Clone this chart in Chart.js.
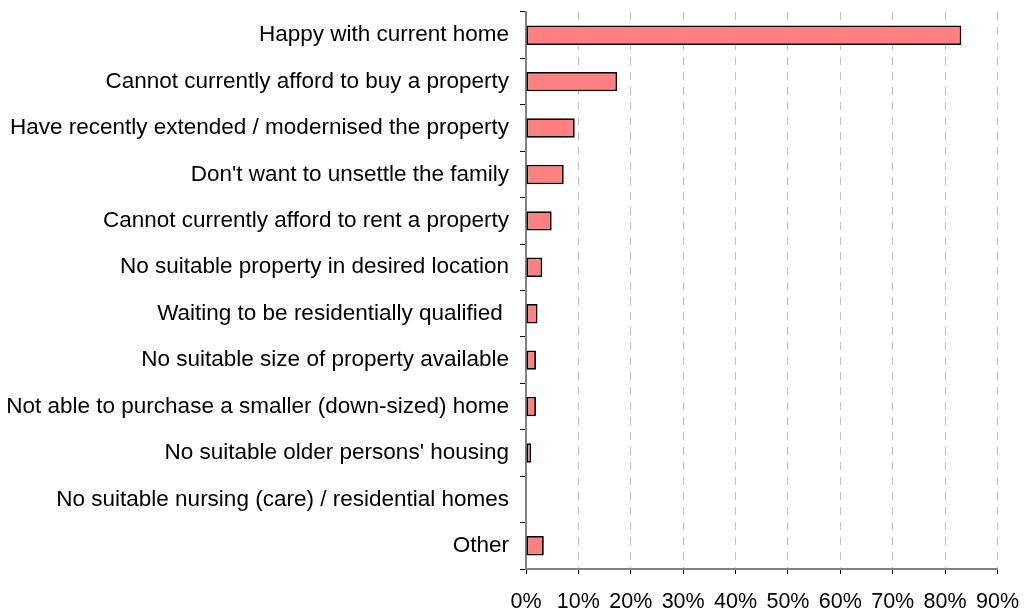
<!DOCTYPE html>
<html>
<head>
<meta charset="utf-8">
<script src="https://cdn.jsdelivr.net/npm/chart.js@4/dist/chart.umd.min.js"></script>
<style>
  body { margin: 0; background: #ffffff; }
  #myChart { display: block; }
</style>
</head>
<body>
<canvas id="myChart" width="1034" height="609"></canvas>
<script>
// reasons for not moving
const categories = [
  'Happy with current home',
  'Cannot currently afford to buy a property',
  'Have recently extended / modernised the property',
  "Don't want to unsettle the family",
  'Cannot currently afford to rent a property',
  'No suitable property in desired location',
  'Waiting to be residentially qualified ',
  'No suitable size of property available',
  'Not able to purchase a smaller (down-sized) home',
  "No suitable older persons' housing",
  'No suitable nursing (care) / residential homes',
  'Other'
];

// percent of respondents
const values = [83.1, 17.4, 9.3, 7.2, 4.9, 3.1, 2.2, 1.9, 1.9, 1.0, 0, 3.4];

const xMin = 0;
const xMax = 90;
const xStep = 10;

const fontFamily = '"Liberation Sans", Arial, sans-serif';

let ctx = document.getElementById('myChart').getContext('2d');

let myChart = new Chart(ctx, {
  type: 'bar',
  data: {
    labels: categories,
    datasets: [{
      data: values,
      backgroundColor: '#ff8080',
      borderColor: '#000000',
      borderWidth: 1.8,
      borderSkipped: false,
      barPercentage: 0.42,
      categoryPercentage: 1
    }]
  },
  options: {
    indexAxis: 'y',
    responsive: false,
    animation: false,
    events: [],
    layout: {
      padding: { left: 0, top: 12, right: 33, bottom: 0 }
    },
    plugins: {
      legend: { display: false },
      tooltip: { enabled: false }
    },
    scales: {
      x: {
        min: xMin,
        max: xMax,
        afterFit: function (scale) { scale.height = 40; },
        ticks: {
          stepSize: xStep,
          maxRotation: 0,
          autoSkip: false,
          padding: 15,
          color: '#000000',
          font: { family: fontFamily, size: 21.5 },
          callback: function (v) { return v + '%'; }
        },
        grid: {
          color: '#c0c0c0',
          lineWidth: 1,
          tickLength: 5,
          tickColor: '#000000'
        },
        border: {
          color: '#808080',
          width: 2,
          dash: [8, 7]
        }
      },
      y: {
        afterFit: function (scale) {
          scale.width = 526;
          scale.paddingTop = 0;
          scale.paddingBottom = 0;
        },
        ticks: {
          autoSkip: false,
          padding: 11,
          color: '#000000',
          font: { family: fontFamily, size: 22.5 }
        },
        grid: {
          offset: true,
          drawOnChartArea: false,
          tickLength: 6,
          tickColor: '#000000'
        },
        border: {
          color: '#808080',
          width: 2
        }
      }
    }
  }
});
</script>
</body>
</html>
